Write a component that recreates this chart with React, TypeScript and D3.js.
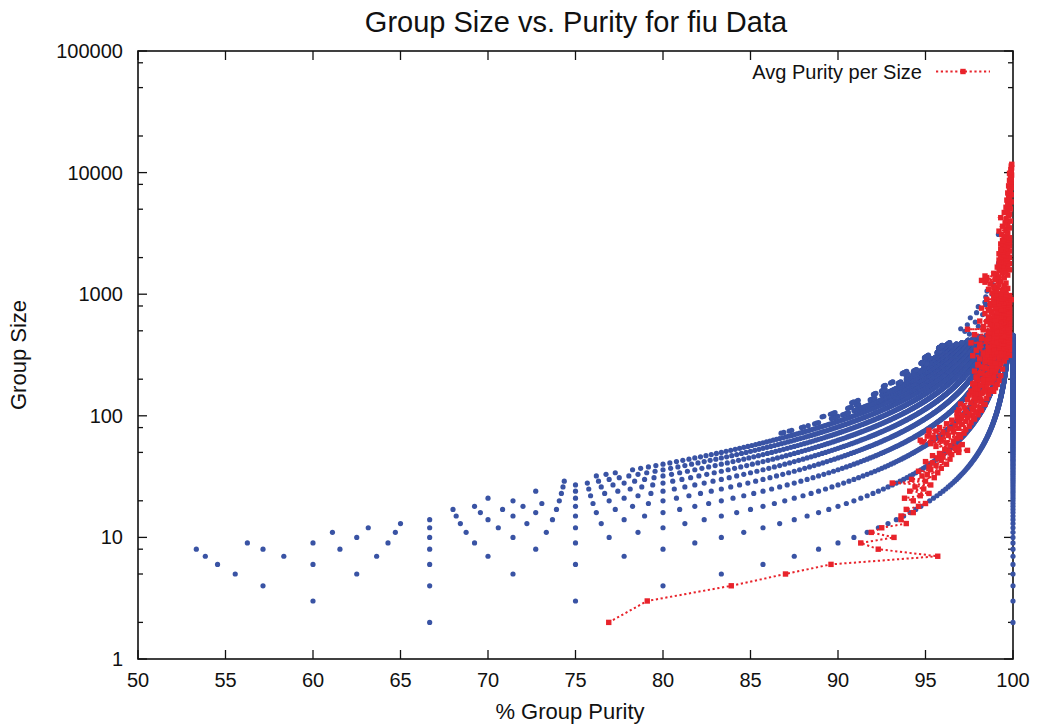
import React from "react";
import * as d3 from "d3";

// ---- chart data ----
const titleText = "Group Size vs. Purity for fiu Data";
const xLabel = "% Group Purity";
const yLabel = "Group Size";
const legendLabel = "Avg Purity per Size";

const purityTicks = [50, 55, 60, 65, 70, 75, 80, 85, 90, 95, 100];
const sizeTicks = [1, 10, 100, 1000, 10000, 100000];
const sizeMinorSteps = [2, 5, 8];

// Groups: number of impure (minority) members and the runs of majority sizes observed.
const impureCounts = [0, 1, 2, 3, 4, 5, 6, 7, 8, 9, 10, 11, 12, 13, 14, 15, 16];
const majoritySizeRuns: number[][][] = [
  [[2, 460]],
  [[2, 470]],
  [[3, 480]],
  [[4, 500]],
  [[5, 470]],
  [[6, 450]],
  [[7, 480]],
  [[8, 9], [11, 460]],
  [[17, 18], [20, 20], [23, 440]],
  [[21, 21], [24, 24], [26, 450]],
  [[29, 29], [32, 34], [36, 430]],
  [[72, 73], [75, 76], [80, 81], [83, 83], [86, 88], [95, 99], [102, 106], [110, 420]],
  [[98, 99], [103, 106], [115, 118], [122, 124], [135, 140], [148, 400]],
  [[128, 130], [133, 134], [150, 153], [160, 165], [185, 190], [200, 390]],
  [[175, 178], [186, 190], [215, 220], [232, 240], [260, 270], [285, 380]],
  [[222, 226], [230, 232], [270, 276], [290, 300], [330, 345], [360, 400]],
  [[300, 306], [312, 315], [360, 368], [375, 380]],
];

// Sparse large groups: [majority size, impure members]
const largeGroups: number[][] = [
  [470, 12], [495, 14], [520, 16], [545, 11], [560, 15], [590, 13], [615, 9],
  [640, 16], [680, 12], [705, 15], [740, 10], [790, 16], [820, 13], [860, 14],
  [900, 9], [950, 15], [1000, 12], [1060, 16], [1120, 11], [1200, 14],
  [1290, 10], [1400, 13], [1520, 8], [1650, 12], [1800, 15], [2000, 11],
  [2250, 9], [2600, 14], [3100, 26],
];

// Average purity per group size, sizes 2..100
const avgSizesSmall = [
  2, 3, 4, 5, 6, 7, 8, 9, 10, 11, 12, 13, 14, 15, 16, 17, 18, 19, 20,
  21, 22, 23, 24, 25, 26, 27, 28, 29, 30, 31, 32, 33, 34, 35, 36, 37, 38, 39, 40,
  41, 42, 43, 44, 45, 46, 47, 48, 49, 50, 51, 52, 53, 54, 55, 56, 57, 58, 59, 60,
  61, 62, 63, 64, 65, 66, 67, 68, 69, 70, 71, 72, 73, 74, 75, 76, 77, 78, 79, 80,
  82, 83, 85, 86, 88, 89, 90, 92, 94, 95, 97, 98, 100,
];
const avgPuritySmall = [
  76.9, 79.1, 83.9, 87.0, 89.6, 95.7, 92.3, 91.3, 93.2, 91.9, 92.5, 93.9, 93.6, 93.6, 94.3, 93.9, 94.6, 95.0, 94.3,
  93.8, 94.7, 95.2, 94.1, 94.9, 94.4, 95.3, 93.1, 95.0, 94.2, 95.5, 94.8, 95.1, 95.7, 94.6, 95.3, 95.9, 95.2, 95.6, 96.2,
  95.4, 95.0, 95.9, 96.4, 95.7, 96.0, 95.4, 96.5, 95.8, 96.9, 96.3, 97.4, 96.1, 96.7, 96.9, 95.6, 96.4, 97.1, 95.3, 96.2,
  94.8, 96.6, 94.7, 95.9, 96.8, 95.4, 97.0, 95.1, 96.3, 96.9, 95.2, 97.2, 96.0, 96.6, 95.6, 95.2, 97.3, 96.4, 96.9, 95.8,
  97.5, 96.7, 97.1, 96.2, 97.6, 96.9, 97.3, 96.5, 97.8, 97.0, 97.4, 96.8, 97.7,
];

// sizes 101..300
const avgSizesMid = [
  101, 102, 104, 106, 107, 109, 111, 112, 114, 117, 118, 121, 124, 125, 128, 131,
  133, 136, 139, 141, 144, 148, 150, 153, 157, 160, 164, 168, 171, 175, 179, 183,
  188, 192, 197, 201, 206, 211, 216, 222, 227, 233, 239, 245, 251, 258, 264, 271,
  278, 285, 293, 300,
];
const avgPurityMid = [
  97.1, 98.0, 97.5, 96.8, 97.9, 97.3, 98.2, 96.9, 97.7, 98.1, 97.2, 97.8, 98.4, 97.0, 97.6, 98.2,
  97.9, 97.4, 98.5, 97.8, 98.1, 97.5, 98.6, 97.9, 98.3, 97.6, 98.7, 98.0, 97.8, 98.5, 98.2, 97.7,
  98.8, 98.3, 98.0, 98.6, 97.9, 98.9, 98.4, 98.1, 98.7, 97.8, 99.0, 98.5, 98.2, 98.8, 98.0, 99.0,
  98.4, 98.7, 98.1, 98.9,
];

// further sizes between 150 and 1000
const avgSizesFill = [
  152, 155, 159, 162, 166, 170, 173, 177, 181, 186,
  190, 195, 199, 204, 209, 214, 219, 225, 230, 236,
  242, 248, 255, 261, 268, 275, 282, 289, 297, 302,
  306, 310, 314, 318, 322, 327, 331, 335, 339, 344,
  348, 353, 357, 362, 366, 371, 376, 381, 386, 391,
  396, 401, 406, 411, 417, 422, 428, 433, 439, 444,
  450, 456, 462, 468, 474, 480, 486, 493, 499, 506,
  512, 519, 525, 532, 539, 546, 553, 560, 567, 575,
  582, 590, 598, 605, 613, 621, 629, 637, 645, 654,
  662, 671, 680, 689, 698, 707, 716, 725, 735, 744,
  754, 763, 773, 783, 793, 803, 814, 824, 835, 846,
  857, 868, 879, 891, 902, 914, 926, 938, 950, 962,
  975, 988,
];
const avgPurityFill = [
  98.2, 97.7, 98.9, 98.4, 97.9, 99.0, 98.5, 98.1, 99.1, 97.8,
  98.6, 99.2, 98.3, 98.9, 97.9, 99.3, 98.6, 98.2, 99.0, 98.8,
  99.4, 98.4, 99.1, 98.0, 99.3, 98.7, 99.5, 98.5, 99.2, 99.6,
  98.7, 99.4, 99.8, 98.5, 99.6, 99.0, 99.7, 98.8, 99.5, 99.3,
  99.8, 98.9, 99.6, 99.4, 98.6, 99.7, 99.2, 99.8, 98.9, 99.5,
  99.7, 99.1, 99.8, 98.8, 99.5, 99.7, 99.3, 98.6, 99.8, 99.4,
  99.6, 99.0, 99.8, 99.5, 98.9, 99.7, 99.3, 99.8, 99.1, 99.6,
  99.8, 98.8, 99.5, 99.7, 99.2, 99.8, 99.0, 99.6, 99.4, 99.8,
  99.1, 99.7, 99.5, 99.8, 98.9, 99.6, 99.8, 99.3, 99.7, 99.5,
  99.8, 99.2, 99.6, 99.8, 99.4, 99.1, 99.7, 99.8, 99.5, 99.3,
  99.8, 99.6, 99.0, 99.7, 99.8, 99.4, 99.6, 99.8, 99.2, 99.7,
  99.5, 99.8, 99.3, 99.7, 99.9, 99.4, 99.6, 99.8, 99.5, 99.7,
  99.8, 99.6,
];

// sizes 301..1000
const avgSizesLarge = [
  304, 308, 312, 316, 320, 324, 329, 333, 337, 341,
  346, 350, 355, 359, 364, 369, 373, 378, 383, 388,
  393, 398, 403, 409, 414, 419, 425, 430, 436, 441,
  447, 453, 459, 465, 471, 477, 483, 489, 496, 502,
  509, 515, 522, 528, 535, 542, 549, 556, 564, 571,
  578, 586, 594, 601, 609, 617, 625, 633, 641, 649,
  658, 666, 675, 684, 693, 702, 711, 720, 730, 739,
  749, 758, 768, 778, 788, 798, 809, 819, 830, 840,
  851, 862, 873, 885, 896, 908, 920, 932, 944, 956,
  969, 981, 994,
];
const avgPurityLarge = [
  98.4, 99.2, 97.7, 98.8, 99.4, 98.9, 98.3, 99.1, 98.6, 99.5,
  97.9, 98.7, 99.3, 98.6, 99.2, 98.1, 99.6, 98.8, 99.0, 98.1,
  99.4, 97.6, 98.9, 99.0, 99.5, 98.5, 99.3, 98.2, 99.7, 98.9,
  99.1, 98.6, 99.4, 97.8, 99.2, 99.1, 98.7, 98.6, 99.5, 99.4,
  98.3, 97.4, 99.6, 98.9, 99.0, 98.3, 99.3, 99.2, 98.8, 98.7,
  99.6, 99.5, 98.5, 98.1, 99.3, 99.0, 98.7, 99.4, 99.7, 98.6,
  99.3, 98.9, 99.1, 99.6, 98.4, 99.2, 98.8, 99.1, 99.5, 98.6,
  99.4, 99.0, 98.2, 99.7, 99.0, 99.3, 98.7, 99.5, 99.0, 98.7,
  99.6, 99.2, 98.9, 99.3, 99.7, 98.5, 99.4, 99.1, 99.6, 98.9,
  99.3, 99.5, 99.0,
];

// sizes 1001..3000
const avgSizesHuge = [
  1008, 1025, 1042, 1060, 1078, 1096, 1115, 1134, 1153, 1173,
  1193, 1213, 1234, 1255, 1276, 1298, 1320, 1342, 1365, 1388,
  1412, 1436, 1460, 1485, 1510, 1536, 1562, 1588, 1615, 1643,
  1671, 1699, 1728, 1757, 1787, 1817, 1848, 1880, 1912, 1944,
  1977, 2011, 2045, 2080, 2115, 2151, 2188, 2225, 2263, 2301,
  2340, 2380, 2420, 2461, 2503, 2546, 2589, 2633, 2678, 2723,
  2770, 2817, 2865, 2913, 2963,
];
const avgPurityHuge = [
  99.3, 98.8, 99.6, 99.0, 99.4, 98.6, 99.7, 99.1, 98.9, 99.5,
  99.2, 98.7, 99.6, 98.4, 99.3, 98.2, 99.0, 98.5, 99.5, 99.2,
  98.4, 99.7, 99.0, 98.9, 99.4, 99.6, 99.2, 99.8, 99.3, 99.5,
  99.1, 99.7, 99.4, 99.2, 99.8, 99.5, 99.3, 99.7, 99.2, 99.6,
  99.4, 99.8, 99.3, 99.6, 99.5, 99.2, 99.7, 99.4, 99.8, 99.5,
  99.3, 99.7, 99.6, 99.4, 99.8, 99.5, 99.3, 99.7, 99.6, 99.8,
  99.4, 99.7, 99.5, 99.8, 99.6,
];

// sizes above 3000
const avgSizesTop = [
  3010, 3100, 3200, 3300, 3400, 3510, 3620, 3740, 3860, 3990,
  4120, 4260, 4400, 4550, 4700, 4860, 5020, 5190, 5370, 5550,
  5740, 5940, 6140, 6350, 6570, 6800, 7030, 7270, 7520, 7780,
  8050, 8330, 8620, 8920, 9230, 9550, 9880, 10220, 10570, 10940,
  11320, 11700,
];
const avgPurityTop = [
  99.5, 99.35, 99.7, 99.2, 99.6, 99.8, 99.4, 99.7, 99.55, 99.85,
  99.6, 99.3, 99.75, 99.8, 99.5, 99.7, 99.85, 99.6, 99.8, 99.7,
  99.9, 99.65, 99.8, 99.75, 99.9, 99.7, 99.85, 99.8, 99.9, 99.75,
  99.85, 99.9, 99.8, 99.9, 99.85, 99.92, 99.8, 99.9, 99.88, 99.92,
  99.9, 99.93,
];

// ---- layout ----
const W = 1042;
const H = 725;
const M = { left: 138, right: 1013, top: 51, bottom: 659 };
const BLUE = "#3953a4";
const RED = "#e8232b";
const FONT = "'Liberation Sans', Arial, Helvetica, sans-serif";

export default function App() {
  const x = d3.scaleLinear().domain([50, 100]).range([M.left, M.right]);
  const y = d3.scaleLog().domain([1, 100000]).range([M.bottom, M.top]);

  const bluePoints: { p: number; s: number }[] = [];
  impureCounts.forEach((k, i) => {
    majoritySizeRuns[i].forEach(([a, b]) => {
      for (let m = a; m <= b; m++) bluePoints.push({ p: (100 * m) / (m + k), s: m });
    });
  });
  largeGroups.forEach(([m, k]) => bluePoints.push({ p: (100 * m) / (m + k), s: m }));

  const avgSizes = [
    ...avgSizesSmall, ...avgSizesMid, ...avgSizesFill, ...avgSizesLarge, ...avgSizesHuge, ...avgSizesTop,
  ];
  const avgPurity = [
    ...avgPuritySmall, ...avgPurityMid, ...avgPurityFill, ...avgPurityLarge, ...avgPurityHuge, ...avgPurityTop,
  ];
  const avg = avgSizes
    .map((s, i) => ({ s, p: avgPurity[i] }))
    .sort((a, b) => d3.ascending(a.s, b.s));
  const line = d3
    .line<{ s: number; p: number }>()
    .x((d) => x(d.p))
    .y((d) => y(d.s));

  const minorSizes: number[] = [];
  for (let e = 0; e < 5; e++) sizeMinorSteps.forEach((k) => minorSizes.push(k * Math.pow(10, e)));

  const majorLen = 9;
  const minorLen = 5;
  const sq = 5.4;

  return (
    <svg
      width={W}
      height={H}
      style={{ position: "absolute", left: 0, top: 0, background: "#fff" }}
      fontFamily={FONT}
    >
      <rect x={0} y={0} width={W} height={H} fill="#fff" />
      <text x={576} y={32} textAnchor="middle" fontSize={29} fill="#111">
        {titleText}
      </text>

      {/* ticks */}
      <g stroke="#111" strokeWidth={1.3}>
        {purityTicks.map((t) => (
          <g key={"xt" + t}>
            <line x1={x(t)} x2={x(t)} y1={M.bottom} y2={M.bottom - majorLen} />
            <line x1={x(t)} x2={x(t)} y1={M.top} y2={M.top + majorLen} />
          </g>
        ))}
        {sizeTicks.map((t) => (
          <g key={"yt" + t}>
            <line x1={M.left} x2={M.left + majorLen} y1={y(t)} y2={y(t)} />
            <line x1={M.right} x2={M.right - majorLen} y1={y(t)} y2={y(t)} />
          </g>
        ))}
        {minorSizes.map((t) => (
          <g key={"ym" + t}>
            <line x1={M.left} x2={M.left + minorLen} y1={y(t)} y2={y(t)} />
            <line x1={M.right} x2={M.right - minorLen} y1={y(t)} y2={y(t)} />
          </g>
        ))}
      </g>
      <rect
        x={M.left}
        y={M.top}
        width={M.right - M.left}
        height={M.bottom - M.top}
        fill="none"
        stroke="#111"
        strokeWidth={1.6}
      />

      {/* tick labels */}
      <g fontSize={20} fill="#111">
        {purityTicks.map((t) => (
          <text key={"xl" + t} x={x(t)} y={M.bottom + 28} textAnchor="middle">
            {t}
          </text>
        ))}
        {sizeTicks.map((t) => (
          <text key={"yl" + t} x={M.left - 15} y={y(t) + 7} textAnchor="end">
            {t}
          </text>
        ))}
      </g>

      <text x={570} y={719} textAnchor="middle" fontSize={22} fill="#111">
        {xLabel}
      </text>
      <text
        transform={`translate(26,${(M.top + M.bottom) / 2}) rotate(-90)`}
        textAnchor="middle"
        fontSize={22}
        fill="#111"
      >
        {yLabel}
      </text>

      {/* group points */}
      <g fill={BLUE}>
        {bluePoints.map((d, i) => (
          <circle key={i} cx={x(d.p)} cy={y(d.s)} r={2.6} />
        ))}
      </g>

      {/* average purity per size */}
      <path d={line(avg) || ""} fill="none" stroke={RED} strokeWidth={2} strokeDasharray="2.2,2.6" />
      <g fill={RED}>
        {avg.map((d, i) => (
          <rect key={i} x={x(d.p) - sq / 2} y={y(d.s) - sq / 2} width={sq} height={sq} />
        ))}
      </g>

      {/* legend */}
      <text x={922} y={79} textAnchor="end" fontSize={20} fill="#111">
        {legendLabel}
      </text>
      <line x1={936} x2={990} y1={71.5} y2={71.5} stroke={RED} strokeWidth={2} strokeDasharray="2.2,2.6" />
      <rect x={963 - sq / 2} y={71.5 - sq / 2} width={sq} height={sq} fill={RED} />
    </svg>
  );
}
